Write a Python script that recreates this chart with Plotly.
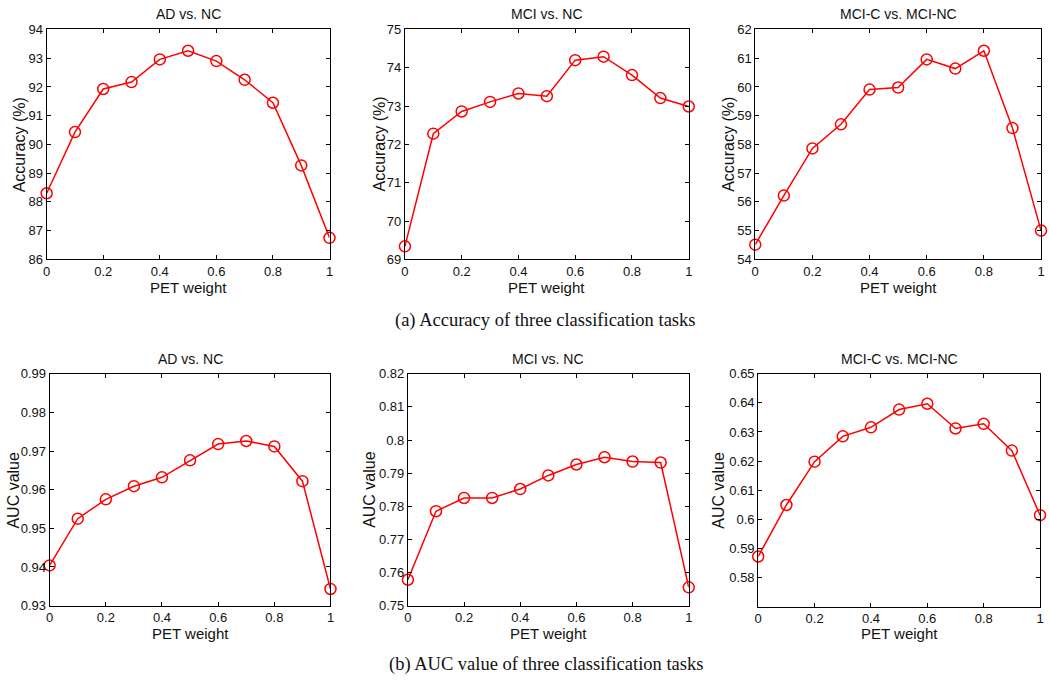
import plotly.graph_objects as go

W, H = 1050, 684

pet_weight = [0, 0.1, 0.2, 0.3, 0.4, 0.5, 0.6, 0.7, 0.8, 0.9, 1.0]

acc_ad_nc = [88.30, 90.43, 91.93, 92.17, 92.96, 93.26, 92.90, 92.25, 91.45, 89.27, 86.75]
acc_mci_nc = [69.34, 72.28, 72.86, 73.11, 73.33, 73.26, 74.20, 74.29, 73.81, 73.21, 72.99]
acc_mcic_mcinc = [54.51, 56.22, 57.86, 58.70, 59.91, 59.98, 60.96, 60.64, 61.26, 58.57, 55.00]

auc_ad_nc = [0.9404, 0.9525, 0.9575, 0.9609, 0.9632, 0.9676, 0.9718, 0.9726, 0.9712, 0.9622, 0.9343]
auc_mci_nc = [0.7578, 0.7785, 0.7825, 0.7825, 0.7852, 0.7893, 0.7926, 0.7948, 0.7935, 0.7932, 0.7555]
auc_mcic_mcinc = [0.5872, 0.6049, 0.6198, 0.6285, 0.6316, 0.6377, 0.6397, 0.6312, 0.6328, 0.6236, 0.6014]

titles = ["AD vs. NC", "MCI vs. NC", "MCI-C vs. MCI-NC"]
x_ticks = [0, 0.2, 0.4, 0.6, 0.8, 1]
x_ticktext = ["0", "0.2", "0.4", "0.6", "0.8", "1"]

acc_ticks = [list(range(86, 95)), list(range(69, 76)), list(range(54, 63))]
auc_ticks = [[0.93, 0.94, 0.95, 0.96, 0.97, 0.98, 0.99],
             [0.75, 0.76, 0.77, 0.78, 0.79, 0.80, 0.81, 0.82],
             [0.58, 0.59, 0.60, 0.61, 0.62, 0.63, 0.64, 0.65]]
auc_ticktext = [["0.93", "0.94", "0.95", "0.96", "0.97", "0.98", "0.99"],
                ["0.75", "0.76", "0.77", "0.78", "0.79", "0.8", "0.81", "0.82"],
                ["0.58", "0.59", "0.6", "0.61", "0.62", "0.63", "0.64", "0.65"]]
y_ranges = [[86, 94], [69, 75], [54, 62], [0.93, 0.99], [0.75, 0.82], [0.57, 0.65]]

caption_a = "(a) Accuracy of three classification tasks"
caption_b = "(b) AUC value of three classification tasks"

# panel boxes in page pixels: (left, right, top, bottom)
boxes = [(43, 328, 23, 258), (404, 690, 23, 258), (757, 1045, 23, 258),
         (46, 329, 375, 612), (407, 690, 375, 612), (760, 1044, 375, 613)]


def fx(p):
    return p / W


def fy(p):
    return 1 - p / H


series = [acc_ad_nc, acc_mci_nc, acc_mcic_mcinc, auc_ad_nc, auc_mci_nc, auc_mcic_mcinc]

fig = go.Figure()
FONT = "Liberation Sans, Arial, sans-serif"
SERIF = "Liberation Serif, Times New Roman, serif"
annotations = []

for i, (ys, box) in enumerate(zip(series, boxes)):
    n = i + 1
    xa = "x" if n == 1 else f"x{n}"
    ya = "y" if n == 1 else f"y{n}"
    fig.add_trace(go.Scatter(
        x=pet_weight, y=ys, mode="lines+markers",
        line=dict(color="#ff0000", width=1.5),
        marker=dict(symbol="circle-open", size=11, color="#ff0000", line=dict(width=1.5)),
        xaxis=xa, yaxis=ya, showlegend=False, cliponaxis=False, hoverinfo="skip",
    ))
    l, r, t, b = box
    axis_common = dict(showline=True, linecolor="black", linewidth=1, mirror="ticks",
                       ticks="inside", ticklen=4, tickcolor="black", showgrid=False,
                       zeroline=False, tickfont=dict(family=FONT, size=13, color="#111"))
    if i < 3:
        yt, ytt = acc_ticks[i], [str(v) for v in acc_ticks[i]]
    else:
        yt, ytt = auc_ticks[i - 3], auc_ticktext[i - 3]
    fig.update_layout(**{
        ("xaxis" if n == 1 else f"xaxis{n}"): dict(domain=[fx(l), fx(r)], range=[0, 1],
                                                   tickvals=x_ticks, ticktext=x_ticktext,
                                                   anchor=ya, **axis_common),
        ("yaxis" if n == 1 else f"yaxis{n}"): dict(domain=[fy(b), fy(t)], range=y_ranges[i],
                                                   tickvals=yt, ticktext=ytt, anchor=xa,
                                                   **axis_common),
    })
    cx = fx((l + r) / 2)
    # title
    ty = 7 if i < 3 else 360
    annotations.append(dict(text=titles[i % 3], x=cx, y=fy(ty), xref="paper", yref="paper",
                            showarrow=False, xanchor="center", yanchor="middle",
                            font=dict(family=FONT, size=14, color="#111")))
    # x label
    xly = 287 if i < 3 else 641
    annotations.append(dict(text="PET weight", x=cx, y=fy(xly), xref="paper", yref="paper",
                            showarrow=False, xanchor="center", yanchor="middle",
                            font=dict(family=FONT, size=15, color="#111")))
    # y label
    ylx = [16, 378, 730, 10, 368, 720][i]
    annotations.append(dict(text="Accuracy (%)" if i < 3 else "AUC value",
                            x=fx(ylx), y=fy((t + b) / 2), xref="paper", yref="paper",
                            showarrow=False, xanchor="center", yanchor="middle", textangle=-90,
                            font=dict(family=FONT, size=16, color="#111")))

annotations.append(dict(text=caption_a, x=fx(546), y=fy(321), xref="paper", yref="paper",
                        showarrow=False, xanchor="center", yanchor="middle",
                        font=dict(family=SERIF, size=18.5, color="#111")))
annotations.append(dict(text=caption_b, x=fx(546), y=fy(672), xref="paper", yref="paper",
                        showarrow=False, xanchor="center", yanchor="middle",
                        font=dict(family=SERIF, size=18.5, color="#111")))

fig.update_layout(width=W, height=H, margin=dict(l=0, r=0, t=0, b=0),
                  paper_bgcolor="white", plot_bgcolor="white", annotations=annotations,
                  hovermode=False)

# remove the default page margin so the figure fills the 1050x684 window exactly
fig.write_html("out.html", config={"displayModeBar": False},
               post_script="document.body.style.margin='0';document.body.style.overflow='hidden';")
